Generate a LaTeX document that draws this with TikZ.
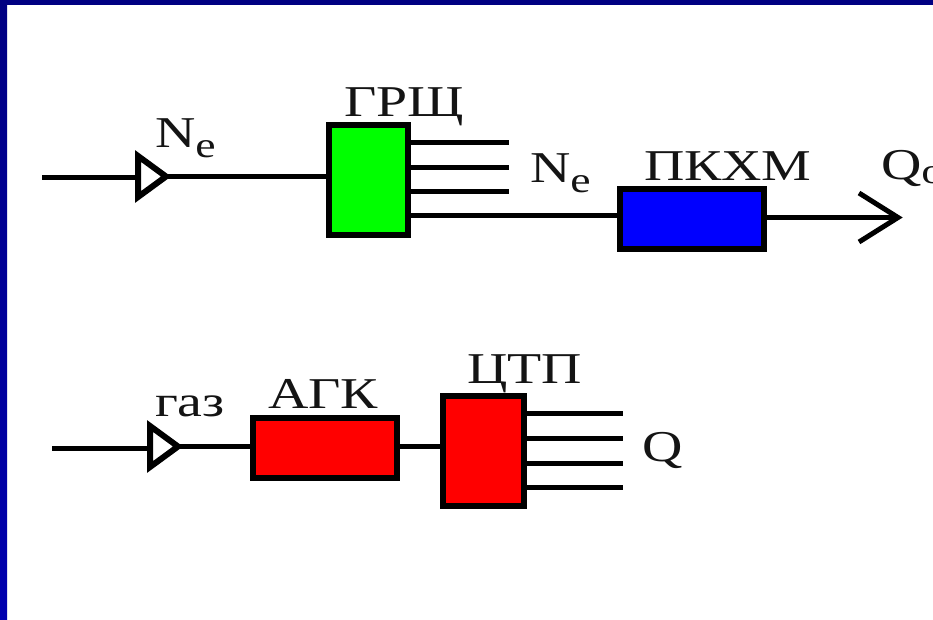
\documentclass[tikz,border=0pt]{standalone}
\usepackage{fontspec}
\setmainfont{Liberation Serif}
\usetikzlibrary{calc}
\definecolor{navy}{RGB}{0,0,130}
\definecolor{lowblue}{RGB}{0,0,175}
\definecolor{ink}{RGB}{20,20,20}
\tikzset{
  x=1pt,y=-1pt,
  block/.style={draw=black,line width=6pt,inner sep=0pt,outer sep=0pt,minimum width=#1},
  wire/.style={draw=black,line width=5pt},
  tri/.style={draw=black,line width=6pt,line join=miter,fill=white},
  lbl/.style={anchor=base west,inner sep=0pt,outer sep=0pt,text=ink,xscale=1.27,font=\fontsize{44}{44}\selectfont},
}
\newcommand{\subE}{\raisebox{-10pt}{\fontsize{36}{36}\selectfont e}}
\begin{document}
\begin{tikzpicture}
\useasboundingbox (0,0) rectangle (933,620);
\clip (0,0) rectangle (933,620);
\fill[white] (0,0) rectangle (933,620);
\shade[bottom color=lowblue,top color=navy] (0,0) rectangle (7,620);
\fill[navy] (0,0) rectangle (933,5);

% upper row: coordinates
\coordinate (inA) at (42,177.5);
\coordinate (triAa) at (138,156);
\coordinate (triAb) at (138,197);
\coordinate (triAt) at (166,176.5);
\coordinate (triAm) at (138,177.5);
\node[block=79pt,minimum height=110pt,fill=green] (grs) at (368.5,180) {};
\node[block=144pt,minimum height=60pt,fill=blue] (pkhm) at (692,219) {};
\coordinate (s1) at (509,143);
\coordinate (s2) at (509,168);
\coordinate (s3) at (509,192);
\coordinate (outA) at (898,217.5);
\coordinate (headA) at (859,193);
\coordinate (headB) at (859,242);

\draw[wire] (inA) -- (triAm);
\draw[tri] (triAa) -- (triAt) -- (triAb) -- cycle;
\draw[wire] (triAt) -- (grs.west |- triAt);
\draw[wire] (grs.east |- s1) -- (s1);
\draw[wire] (grs.east |- s2) -- (s2);
\draw[wire] (grs.east |- s3) -- (s3);
\draw[wire] (grs.east |- 0,216) -- (pkhm.west |- 0,216);
\draw[wire] (pkhm.east |- outA) -- (outA);
\draw[line width=5pt,line join=miter] (headA) -- (outA) -- (headB);

% lower row: coordinates
\coordinate (inB) at (52,448);
\coordinate (triBa) at (150,426);
\coordinate (triBb) at (150,467);
\coordinate (triBt) at (178,446.5);
\coordinate (triBm) at (150,448);
\node[block=144pt,minimum height=60pt,fill=red] (agk) at (325,448) {};
\node[block=81pt,minimum height=110pt,fill=red] (ctp) at (483.5,451) {};
\coordinate (t1) at (623,413);
\coordinate (t2) at (623,438);
\coordinate (t3) at (623,463);
\coordinate (t4) at (623,487);

\draw[wire] (inB) -- (triBm);
\draw[tri] (triBa) -- (triBt) -- (triBb) -- cycle;
\draw[wire] (triBt) -- (agk.west |- triBt);
\draw[wire] (agk.east |- 0,446.5) -- (ctp.west |- 0,446.5);
\draw[wire] (ctp.east |- t1) -- (t1);
\draw[wire] (ctp.east |- t2) -- (t2);
\draw[wire] (ctp.east |- t3) -- (t3);
\draw[wire] (ctp.east |- t4) -- (t4);

% labels
\node[lbl] (lNe1) at (155,148) {N\subE};
\node[lbl] (lgrs) at (344,117) {ГРЩ};
\node[lbl] (lNe2) at (530,183) {N\subE};
\node[lbl] (lpkhm) at (644,181) {ПКХМ};
\node[lbl] (lQo) at (881,180) {Q\raisebox{-4pt}{\fontsize{36}{36}\selectfont o}};
\node[lbl] (lgaz) at (155,416) {газ};
\node[lbl] (lagk) at (268,408) {АГК};
\node[lbl] (lctp) at (467,383) {ЦТП};
\node[lbl] (lQ) at (642,461) {Q};
\end{tikzpicture}
\end{document}
